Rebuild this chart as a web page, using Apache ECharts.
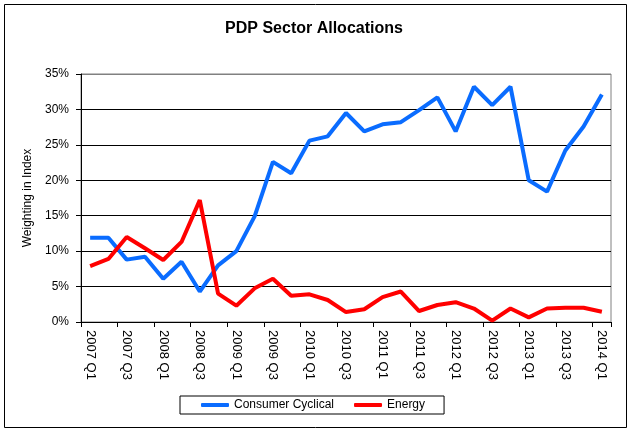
<!DOCTYPE html>
<html>
<head>
<meta charset="utf-8">
<script src="https://cdn.jsdelivr.net/npm/echarts@6/dist/echarts.min.js"></script>
<style>
html,body{margin:0;padding:0;background:#fff;}
#chart{width:628px;height:430px;}
</style>
</head>
<body>
<div id="chart"></div>
<script>
const categories = [];
const years = [2007,2008,2009,2010,2011,2012,2013,2014];
for (const y of years) { for (let q = 1; q <= 4; q++) { if (y === 2014 && q > 1) break; categories.push(y + ' Q' + q); } }

const consumerCyclical = [11.9, 11.9, 8.8, 9.2, 6.1, 8.5, 4.3, 8.0, 10.0, 14.9,
  22.6, 21.0, 25.6, 26.2, 29.5, 26.9, 27.9, 28.2, 29.9, 31.7,
  26.9, 33.2, 30.6, 33.2, 20.0, 18.4, 24.2, 27.6, 32.1];
const energy = [7.9, 8.9, 12.0, 10.4, 8.75, 11.3, 17.2, 4.0, 2.3, 4.75,
  6.1, 3.7, 3.9, 3.1, 1.4, 1.8, 3.5, 4.3, 1.55, 2.4,
  2.8, 1.9, 0.2, 1.9, 0.65, 1.9, 2.0, 2.0, 1.45];

const FONT = '"Liberation Sans", Arial, sans-serif';
const chart = echarts.init(document.getElementById('chart'), null, {renderer: 'canvas'});
chart.setOption({
  animation: false,
  backgroundColor: '#fff',
  textStyle: {fontFamily: FONT, color: '#000'},
  title: {
    text: 'PDP Sector Allocations',
    left: 'center', top: 16,
    textStyle: {fontFamily: FONT, fontSize: 16, fontWeight: 'bold', color: '#000'}
  },
  graphic: [{
    type: 'rect', left: 2, top: 2, shape: {width: 622, height: 423},
    style: {fill: 'none', stroke: '#000', lineWidth: 1}, silent: true
  }],
  legend: {
    left: 180, top: 396,
    padding: [3, 19, 3, 21],
    itemGap: 20,
    itemWidth: 28, itemHeight: 4,
    borderColor: '#000', borderWidth: 1,
    icon: 'roundRect',
    textStyle: {fontFamily: FONT, fontSize: 12, color: '#000'},
    data: ['Consumer Cyclical', 'Energy']
  },
  grid: {
    left: 81, right: 17, top: 74, bottom: 108,
    show: true, borderColor: '#808080', borderWidth: 1
  },
  xAxis: {
    type: 'category',
    data: categories,
    boundaryGap: true,
    axisLine: {lineStyle: {color: '#000', width: 1}},
    axisTick: {show: true, interval: 1, length: 5, lineStyle: {color: '#000'}},
    axisLabel: {interval: 1, rotate: -90, fontSize: 13, color: '#000', fontFamily: FONT, margin: 8}
  },
  yAxis: {
    type: 'value',
    min: 0, max: 35, interval: 5,
    name: 'Weighting in Index',
    nameLocation: 'middle',
    nameGap: 46,
    nameTextStyle: {fontFamily: FONT, fontSize: 12, color: '#000'},
    axisLine: {show: true, lineStyle: {color: '#000', width: 1}},
    axisTick: {show: true, length: 5, lineStyle: {color: '#000'}},
    axisLabel: {formatter: '{value}%', fontSize: 12, color: '#000', fontFamily: FONT, margin: 12},
    splitLine: {show: true, lineStyle: {color: ['#000','#000','#000','#000','#000','#000','#000','#808080'], width: 1}}
  },
  series: [
    {name: 'Consumer Cyclical', type: 'line', data: consumerCyclical, symbol: 'none',
     lineStyle: {color: '#0A6CFF', width: 4}, itemStyle: {color: '#0A6CFF'}},
    {name: 'Energy', type: 'line', data: energy, symbol: 'none',
     lineStyle: {color: '#FF0000', width: 4}, itemStyle: {color: '#FF0000'}}
  ]
});
</script>
</body>
</html>
